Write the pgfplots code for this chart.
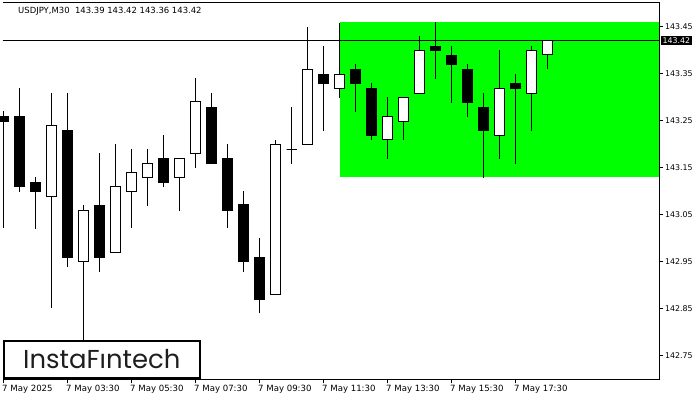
\documentclass[border=0pt]{standalone}
\usepackage{fontspec}
\setmainfont{DejaVu Sans}
\newfontfamily\logofont{Poppins}
\usepackage{pgfplots}
\pgfplotsset{compat=1.18}
\usepgfplotslibrary{statistics}
\definecolor{lime}{RGB}{0,255,0}
\definecolor{logogray}{RGB}{30,30,30}
\begin{document}
\begin{tikzpicture}
\path[use as bounding box] (-2.5bp,-20.7bp) rectangle (697.5bp,379.3bp);
\begin{axis}[
  scale only axis, width=656.8bp, height=377bp,
  xmin=-0.0625, xmax=40.9875, ymin=142.70, ymax=143.502,
  clip=false,
  axis line style={draw=none},
  boxplot/draw direction=y,
  boxplot/box extend=0.625,
  boxplot/whisker extend=0,
  bull/.style={draw=black, fill=white, line width=1bp},
  bear/.style={draw=black, fill=black, line width=1bp},
  xtick={0,4,8,12,16,20,24,28,32},
  xticklabels={7 May 2025,7 May 03:30,7 May 05:30,7 May 07:30,7 May 09:30,7 May 11:30,7 May 13:30,7 May 15:30,7 May 17:30},
  xtick pos=bottom,
  ytick={142.75,142.85,142.95,143.05,143.15,143.25,143.35,143.45},
  ytick pos=right, yticklabel pos=right,
  tick align=outside, major tick length=4bp,
  tick style={black, line width=1bp},
  /pgf/number format/assume math mode=true,
  yticklabel={\pgfmathprintnumber[fixed,fixed zerofill,precision=2]{\tick}},
  ticklabel style={black},
  xticklabel style={font=\fontsize{8.6}{10}\selectfont, anchor=north west, inner sep=0pt, xshift=-1.5bp, yshift=-1.8bp},
  yticklabel style={font=\fontsize{7.9}{9}\selectfont, anchor=west, inner sep=0pt, xshift=1.5bp},
]
% pattern rectangle
\addplot[fill=lime, draw=none] coordinates {(21,143.131) (40.9875,143.131) (40.9875,143.46) (21,143.46)} -- cycle;
% current price line
\addplot[black, line width=1bp] coordinates {(-0.0625,143.42) (40.9875,143.42)};
% candles
\addplot[bear, boxplot prepared={draw position=0, lower whisker=143.022, lower quartile=143.248, median=143.248, upper quartile=143.259, upper whisker=143.271}] coordinates {};
\addplot[bear, boxplot prepared={draw position=1, lower whisker=143.099, lower quartile=143.110, median=143.110, upper quartile=143.260, upper whisker=143.319}] coordinates {};
\addplot[bear, boxplot prepared={draw position=2, lower whisker=143.020, lower quartile=143.099, median=143.099, upper quartile=143.119, upper whisker=143.130}] coordinates {};
\addplot[bull, boxplot prepared={draw position=3, lower whisker=142.851, lower quartile=143.089, median=143.240, upper quartile=143.240, upper whisker=143.308}] coordinates {};
\addplot[bear, boxplot prepared={draw position=4, lower whisker=142.939, lower quartile=142.959, median=142.959, upper quartile=143.230, upper whisker=143.308}] coordinates {};
\addplot[bull, boxplot prepared={draw position=5, lower whisker=142.760, lower quartile=142.951, median=143.059, upper quartile=143.059, upper whisker=143.070}] coordinates {};
\addplot[bear, boxplot prepared={draw position=6, lower whisker=142.929, lower quartile=142.959, median=142.959, upper quartile=143.070, upper whisker=143.181}] coordinates {};
\addplot[bull, boxplot prepared={draw position=7, lower whisker=142.970, lower quartile=142.970, median=143.110, upper quartile=143.110, upper whisker=143.200}] coordinates {};
\addplot[bull, boxplot prepared={draw position=8, lower whisker=143.021, lower quartile=143.100, median=143.140, upper quartile=143.140, upper whisker=143.190}] coordinates {};
\addplot[bull, boxplot prepared={draw position=9, lower whisker=143.069, lower quartile=143.130, median=143.159, upper quartile=143.159, upper whisker=143.190}] coordinates {};
\addplot[bear, boxplot prepared={draw position=10, lower whisker=143.110, lower quartile=143.118, median=143.118, upper quartile=143.170, upper whisker=143.220}] coordinates {};
\addplot[bull, boxplot prepared={draw position=11, lower whisker=143.059, lower quartile=143.130, median=143.170, upper quartile=143.170, upper whisker=143.170}] coordinates {};
\addplot[bull, boxplot prepared={draw position=12, lower whisker=143.149, lower quartile=143.181, median=143.290, upper quartile=143.290, upper whisker=143.341}] coordinates {};
\addplot[bear, boxplot prepared={draw position=13, lower whisker=143.159, lower quartile=143.159, median=143.159, upper quartile=143.279, upper whisker=143.308}] coordinates {};
\addplot[bear, boxplot prepared={draw position=14, lower whisker=143.021, lower quartile=143.059, median=143.059, upper quartile=143.170, upper whisker=143.200}] coordinates {};
\addplot[bear, boxplot prepared={draw position=15, lower whisker=142.929, lower quartile=142.950, median=142.950, upper quartile=143.071, upper whisker=143.100}] coordinates {};
\addplot[bear, boxplot prepared={draw position=16, lower whisker=142.840, lower quartile=142.869, median=142.869, upper quartile=142.960, upper whisker=143.000}] coordinates {};
\addplot[bull, boxplot prepared={draw position=17, lower whisker=142.881, lower quartile=142.881, median=143.200, upper quartile=143.200, upper whisker=143.210}] coordinates {};
\addplot[bull, boxplot prepared={draw position=18, lower whisker=143.159, lower quartile=143.189, median=143.189, upper quartile=143.189, upper whisker=143.279}] coordinates {};
\addplot[bull, boxplot prepared={draw position=19, lower whisker=143.200, lower quartile=143.200, median=143.359, upper quartile=143.359, upper whisker=143.449}] coordinates {};
\addplot[bear, boxplot prepared={draw position=20, lower whisker=143.229, lower quartile=143.329, median=143.329, upper quartile=143.349, upper whisker=143.409}] coordinates {};
\addplot[bull, boxplot prepared={draw position=21, lower whisker=143.299, lower quartile=143.318, median=143.349, upper quartile=143.349, upper whisker=143.459}] coordinates {};
\addplot[bear, boxplot prepared={draw position=22, lower whisker=143.269, lower quartile=143.329, median=143.329, upper quartile=143.359, upper whisker=143.371}] coordinates {};
\addplot[bear, boxplot prepared={draw position=23, lower whisker=143.210, lower quartile=143.218, median=143.218, upper quartile=143.319, upper whisker=143.330}] coordinates {};
\addplot[bull, boxplot prepared={draw position=24, lower whisker=143.169, lower quartile=143.210, median=143.259, upper quartile=143.259, upper whisker=143.300}] coordinates {};
\addplot[bull, boxplot prepared={draw position=25, lower whisker=143.210, lower quartile=143.249, median=143.300, upper quartile=143.300, upper whisker=143.300}] coordinates {};
\addplot[bull, boxplot prepared={draw position=26, lower whisker=143.308, lower quartile=143.308, median=143.400, upper quartile=143.400, upper whisker=143.430}] coordinates {};
\addplot[bear, boxplot prepared={draw position=27, lower whisker=143.339, lower quartile=143.399, median=143.399, upper quartile=143.409, upper whisker=143.460}] coordinates {};
\addplot[bear, boxplot prepared={draw position=28, lower whisker=143.288, lower quartile=143.369, median=143.369, upper quartile=143.389, upper whisker=143.409}] coordinates {};
\addplot[bear, boxplot prepared={draw position=29, lower whisker=143.259, lower quartile=143.288, median=143.288, upper quartile=143.359, upper whisker=143.371}] coordinates {};
\addplot[bear, boxplot prepared={draw position=30, lower whisker=143.129, lower quartile=143.229, median=143.229, upper quartile=143.279, upper whisker=143.309}] coordinates {};
\addplot[bull, boxplot prepared={draw position=31, lower whisker=143.169, lower quartile=143.219, median=143.319, upper quartile=143.319, upper whisker=143.400}] coordinates {};
\addplot[bear, boxplot prepared={draw position=32, lower whisker=143.159, lower quartile=143.318, median=143.318, upper quartile=143.330, upper whisker=143.349}] coordinates {};
\addplot[bull, boxplot prepared={draw position=33, lower whisker=143.229, lower quartile=143.308, median=143.400, upper quartile=143.400, upper whisker=143.409}] coordinates {};
\addplot[bull, boxplot prepared={draw position=34, lower whisker=143.360, lower quartile=143.390, median=143.420, upper quartile=143.420, upper whisker=143.420}] coordinates {};
% frame (top, right, bottom)
\draw[black, line width=1bp] (rel axis cs:0,1) -- (rel axis cs:1,1) -- (rel axis cs:1,0) -- (rel axis cs:0,0);
% current price label
\node[anchor=west, fill=black, text=white, inner xsep=1.5bp, inner ysep=1.6bp, font=\fontsize{7.9}{9}\selectfont] at ([xshift=1.5bp]axis cs:40.9875,143.42) {143.42};
% title
\node[anchor=north west, inner sep=0pt, font=\fontsize{8.5}{10}\selectfont, text=black] at (rel axis cs:0,1) [xshift=15.5bp, yshift=-4.4bp] {USDJPY,M30\ \ 143.39 143.42 143.36 143.42};
% logo
\draw[black, line width=2bp, fill=white] (rel axis cs:0,0) ++(1.2bp,1bp) rectangle ++(196.6bp,37.3bp);
\node[anchor=base, inner sep=0pt, text=logogray, font=\logofont\fontsize{26}{30}\selectfont] at (rel axis cs:0,0) [xshift=99.35bp, yshift=10.6bp] {InstaFıntech};
\end{axis}
\end{tikzpicture}
\end{document}
